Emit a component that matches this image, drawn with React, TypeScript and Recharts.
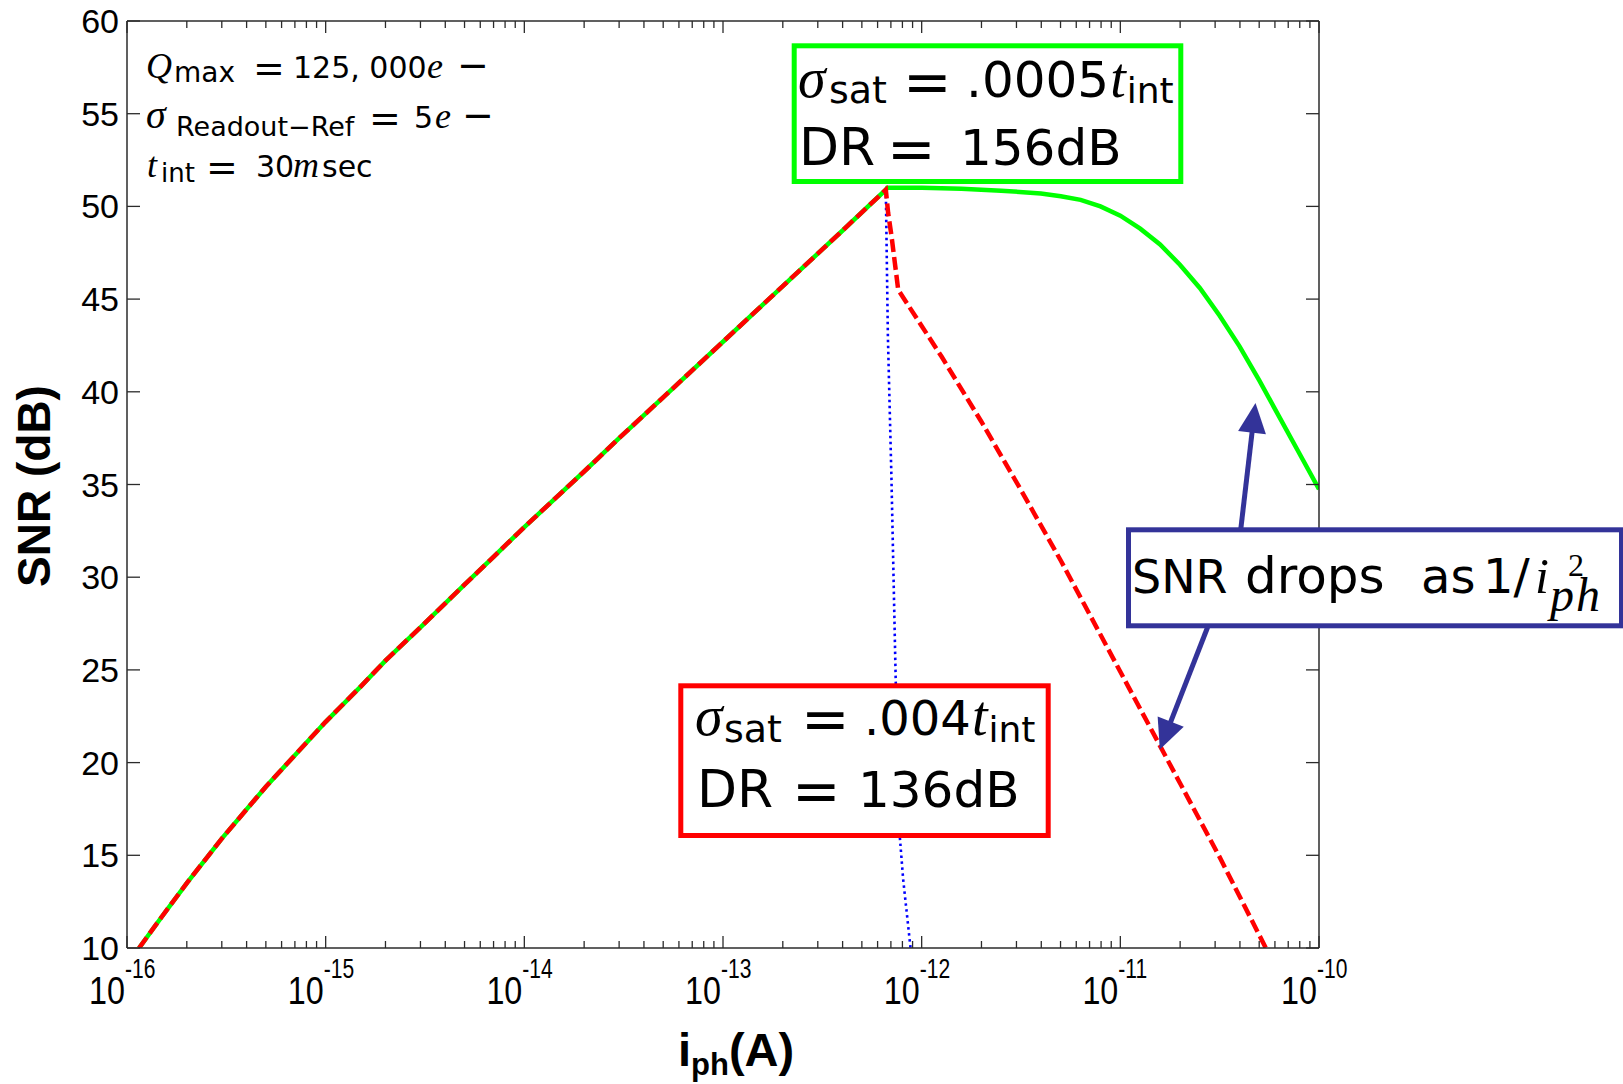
import React from 'react';
import { LineChart, Line, XAxis, YAxis, ReferenceLine } from 'recharts';

const W = 1623;
const H = 1084;
// axes are 1px thick, so the plot box lands at x 127..1319, y 21..948
const MARGIN = { top: 20, right: 303, bottom: 135, left: 126 };

const AXIS = '#2b2b2b';
const GREEN = '#00ff00';
const RED = '#ff0000';
const BLUE = '#0000ff';
const NAVY = '#333399';
const SANS = '"DejaVu Sans", sans-serif';
const MATH = '"Liberation Serif", serif';
const TICK_FONT = '"Liberation Sans", Arial, sans-serif';

// shared rising branch (photocurrent in A, SNR in dB) up to the well-capacity peak
const riseCurrent = [
  1.15e-16, 1.5e-16, 2e-16, 3e-16, 5e-16, 7e-16, 1e-15, 1.5e-15, 2e-15, 3e-15, 5e-15, 7e-15,
  1e-14, 2e-14, 3e-14, 5e-14, 1e-13, 2e-13, 4e-13, 6.6e-13,
];
const riseSnr = [
  10.0, 11.7, 13.5, 15.9, 18.7, 20.4, 22.2, 24.1, 25.5, 27.3, 29.6, 31.1,
  32.7, 35.7, 37.5, 39.7, 42.7, 45.7, 48.7, 50.9,
];

// sigma_sat = .0005 t_int
const greenCurrent = [
  6.7e-13, 1e-12, 1.585e-12, 2.512e-12, 3.981e-12, 5.012e-12, 6.31e-12, 7.943e-12, 1e-11,
  1.259e-11, 1.585e-11, 1.995e-11, 2.512e-11, 3.162e-11, 3.981e-11, 5.012e-11, 6.31e-11, 7.943e-11, 1e-10,
];
const greenSnr = [
  51.0, 51.0, 50.95, 50.85, 50.7, 50.55, 50.35, 50.0, 49.5,
  48.8, 47.95, 46.85, 45.6, 44.1, 42.45, 40.6, 38.65, 36.7, 34.75,
];

// sigma_sat = .004 t_int
const redCurrent = [
  6.78e-13, 7.05e-13, 7.33e-13, 7.62e-13, 1.259e-12, 1.995e-12, 3.162e-12, 5.012e-12,
  1e-11, 1.995e-11, 3.162e-11, 5.4e-11,
];
const redSnr = [49.65, 48.4, 46.95, 45.5, 41.9, 38.4, 34.7, 30.9, 24.9, 18.9, 14.9, 10.0];

// plain integration, no saturation extension
const blueCurrent = [6.6e-13, 6.76e-13, 7.05e-13, 7.4e-13, 7.71e-13, 8.07e-13, 8.79e-13];
const blueSnr = [50.9, 43.0, 35.2, 24.5, 16.4, 13.7, 10];

// arrows from the "SNR drops" box to the two curves: [current, snr]
const arrowTails = [[4.04e-11, 32.6], [2.75e-11, 27.3]];
const arrowTips = [[4.79e-11, 39.4], [1.58e-11, 20.7]];

const decadeExponents = [-16, -15, -14, -13, -12, -11, -10];
const minorSteps = [1, 2, 3, 4, 5, 6, 7, 8, 9];
const yTicks = [10, 15, 20, 25, 30, 35, 40, 45, 50, 55, 60];

const xTicks: number[] = [];
decadeExponents.forEach((e) => {
  minorSteps.forEach((m) => {
    if (e === -10 && m > 1) return;
    xTicks.push(m * Math.pow(10, e));
  });
});

const toPoints = (xs: number[], ys: number[]) => xs.map((i, k) => ({ i, snr: ys[k] }));

const greenData = toPoints([...riseCurrent, ...greenCurrent], [...riseSnr, ...greenSnr]);
const redData = toPoints([...riseCurrent, ...redCurrent], [...riseSnr, ...redSnr]);
const blueData = toPoints(blueCurrent, blueSnr);

const decadeOf = (v: number) => {
  const e = Math.floor(Math.log10(v) + 1e-9);
  const major = Math.abs(v / Math.pow(10, e) - 1) < 1e-6;
  return { e, major };
};

const BottomTick = (props: any) => {
  const { x, y, payload } = props;
  const { e, major } = decadeOf(payload.value);
  return (
    <g>
      <line x1={x} y1={y} x2={x} y2={y - (major ? 12 : 7)} stroke={AXIS} strokeWidth={1.3} />
      {major && (
        <g fontFamily={TICK_FONT} fill="#000">
          <text transform={`translate(${x - 2},${y + 56}) scale(0.85,1)`} textAnchor="end" fontSize={38}>10</text>
          <text transform={`translate(${x - 2},${y + 30}) scale(0.78,1)`} fontSize={27}>{e}</text>
        </g>
      )}
    </g>
  );
};

const TopTick = (props: any) => {
  const { x, y, payload } = props;
  const { major } = decadeOf(payload.value);
  return <line x1={x} y1={y} x2={x} y2={y + (major ? 12 : 7)} stroke={AXIS} strokeWidth={1.3} />;
};

const LeftTick = (props: any) => {
  const { x, y, payload } = props;
  return (
    <g>
      <line x1={x} y1={y} x2={x + 13} y2={y} stroke={AXIS} strokeWidth={1.3} />
      <text x={x - 8} y={y} textAnchor="end" dominantBaseline="central" fontSize={34} fontFamily={TICK_FONT} fill="#000">
        {payload.value}
      </text>
    </g>
  );
};

const RightTick = (props: any) => {
  const { x, y } = props;
  return <line x1={x} y1={y} x2={x - 13} y2={y} stroke={AXIS} strokeWidth={1.3} />;
};

const Arrow = (props: any) => {
  const { x1, y1, x2, y2 } = props;
  if (x1 == null || y1 == null) return null;
  const dx = x2 - x1;
  const dy = y2 - y1;
  const len = Math.hypot(dx, dy);
  const ux = dx / len;
  const uy = dy / len;
  const head = 30;
  const half = 14;
  const bx = x2 - ux * head;
  const by = y2 - uy * head;
  return (
    <g>
      <line x1={x1} y1={y1} x2={bx + ux * 2} y2={by + uy * 2} stroke={NAVY} strokeWidth={5} />
      <polygon
        points={`${x2},${y2} ${bx - uy * half},${by + ux * half} ${bx + uy * half},${by - ux * half}`}
        fill={NAVY}
      />
    </g>
  );
};

const italic = { fontFamily: MATH, fontStyle: 'italic' as const };

// the text boxes and axis titles sit on top of the chart surface
const Annotations = () => (
  <svg width={W} height={H} style={{ position: 'absolute', left: 0, top: 0, pointerEvents: 'none' }}>
    {/* parameter block */}
    <g fontFamily={SANS} fontSize={30} fill="#000">
      <text y={78}>
        <tspan x={146} {...italic} fontSize={36}>Q</tspan>
        <tspan x={174} dy={4} fontSize={28}>max</tspan>
        <tspan x={253} dy={-1} fontSize={38}>=</tspan>
        <tspan x={293} dy={-3}>125, 000</tspan>
        <tspan x={427} {...italic} fontSize={36}>e</tspan>
        <tspan x={457} fontSize={38}>−</tspan>
      </text>
      <text y={128}>
        <tspan x={146} {...italic} fontSize={40}>σ</tspan>
        <tspan x={176} dy={8} fontSize={27}>Readout−Ref</tspan>
        <tspan x={369} dy={-5} fontSize={38}>=</tspan>
        <tspan x={414} dy={-3}>5</tspan>
        <tspan x={435} {...italic} fontSize={36}>e</tspan>
        <tspan x={462} fontSize={38}>−</tspan>
      </text>
      <text y={177}>
        <tspan x={147} {...italic} fontSize={36}>t</tspan>
        <tspan x={161} dy={5} fontSize={26}>int</tspan>
        <tspan x={206} dy={-2} fontSize={38}>=</tspan>
        <tspan x={256} dy={-3}>30</tspan>
        <tspan x={293} {...italic} fontSize={36}>m</tspan>
        <tspan x={322}>sec</tspan>
      </text>
    </g>

    {/* saturation cases */}
    <rect x={794.2} y={45.8} width={386.6} height={135.7} fill="#fff" stroke={GREEN} strokeWidth={5} />
    <g fontFamily={SANS} fontSize={50} fill="#000">
      <text y={97}>
        <tspan x={798} {...italic} fontSize={56}>σ</tspan>
        <tspan x={829} dy={6} fontSize={38}>sat</tspan>
        <tspan x={903} dy={-1} fontSize={58}>=</tspan>
        <tspan x={966} dy={-5}>.0005</tspan>
        <tspan dx={1} {...italic} fontSize={56}>t</tspan>
        <tspan dx={1} dy={6} fontSize={36}>int</tspan>
      </text>
      <text y={165}>
        <tspan x={799} fontSize={52}>DR</tspan>
        <tspan x={887} dy={4} fontSize={58}>=</tspan>
        <tspan x={960} dy={-4}>156dB</tspan>
      </text>
    </g>

    <rect x={680.8} y={685.8} width={367.4} height={149.7} fill="#fff" stroke={RED} strokeWidth={5} />
    <g fontFamily={SANS} fontSize={50} fill="#000">
      <text y={735}>
        <tspan x={695} {...italic} fontSize={56}>σ</tspan>
        <tspan x={724} dy={7} fontSize={38}>sat</tspan>
        <tspan x={801} dy={-3} fontSize={58}>=</tspan>
        <tspan x={864} dy={-4} fontSize={48}>.004</tspan>
        <tspan dx={1} {...italic} fontSize={56}>t</tspan>
        <tspan dx={1} dy={7} fontSize={36}>int</tspan>
      </text>
      <text y={807}>
        <tspan x={697} fontSize={52}>DR</tspan>
        <tspan x={792} dy={4} fontSize={58}>=</tspan>
        <tspan x={858} dy={-4}>136dB</tspan>
      </text>
    </g>

    <rect x={1128.5} y={529.8} width={493} height={96} fill="#fff" stroke={NAVY} strokeWidth={5} />
    <g fontFamily={SANS} fontSize={48} fill="#000">
      <text y={593}>
        <tspan x={1132} fontSize={46}>SNR</tspan>
        <tspan x={1245} fontSize={50}>drops</tspan>
        <tspan x={1421}>as</tspan>
        <tspan x={1483}>1/</tspan>
        <tspan x={1535} {...italic} fontSize={50}>i</tspan>
        <tspan x={1568} dy={-17} fontFamily={MATH} fontSize={32}>2</tspan>
        <tspan x={1550} dy={35} {...italic} fontSize={48} letterSpacing={2}>ph</tspan>
      </text>
    </g>

    {/* axis titles */}
    <text
      transform="translate(50,486) rotate(-90)"
      textAnchor="middle"
      fontFamily={TICK_FONT}
      fontWeight="bold"
      fontSize={46}
      fill="#000"
    >
      SNR (dB)
    </text>
    <text x={678} y={1066} fontFamily={TICK_FONT} fontWeight="bold" fontSize={47} fill="#000">
      i
      <tspan dy={9} fontSize={31}>ph</tspan>
      <tspan dy={-9}>(A)</tspan>
    </text>
  </svg>
);

export default function App() {
  return (
    <div style={{ position: 'absolute', left: 0, top: 0, width: W, height: H, background: '#fff' }}>
      <LineChart width={W} height={H} margin={MARGIN}>
        <XAxis
          xAxisId="bottom"
          dataKey="i"
          type="number"
          scale="log"
          domain={[1e-16, 1e-10]}
          allowDataOverflow
          ticks={xTicks}
          interval={0}
          height={1}
          tickSize={0}
          tickMargin={0}
          tickLine={false}
          tick={<BottomTick />}
          axisLine={{ stroke: AXIS, strokeWidth: 1.5 }}
        />
        <XAxis
          xAxisId="top"
          orientation="top"
          dataKey="i"
          type="number"
          scale="log"
          domain={[1e-16, 1e-10]}
          allowDataOverflow
          ticks={xTicks}
          interval={0}
          height={1}
          tickSize={0}
          tickMargin={0}
          tickLine={false}
          tick={<TopTick />}
          axisLine={{ stroke: AXIS, strokeWidth: 1.5 }}
        />
        <YAxis
          yAxisId="left"
          type="number"
          domain={[10, 60]}
          allowDataOverflow
          ticks={yTicks}
          interval={0}
          width={1}
          tickSize={0}
          tickMargin={0}
          tickLine={false}
          tick={<LeftTick />}
          axisLine={{ stroke: AXIS, strokeWidth: 1.5 }}
        />
        <YAxis
          yAxisId="right"
          orientation="right"
          type="number"
          domain={[10, 60]}
          allowDataOverflow
          ticks={yTicks}
          interval={0}
          width={1}
          tickSize={0}
          tickMargin={0}
          tickLine={false}
          tick={<RightTick />}
          axisLine={{ stroke: AXIS, strokeWidth: 1.5 }}
        />

        <Line
          xAxisId="bottom"
          yAxisId="left"
          data={greenData}
          dataKey="snr"
          type="linear"
          stroke={GREEN}
          strokeWidth={4.5}
          dot={false}
          activeDot={false}
          isAnimationActive={false}
        />
        <Line
          xAxisId="bottom"
          yAxisId="left"
          data={blueData}
          dataKey="snr"
          type="linear"
          stroke={BLUE}
          strokeWidth={2.6}
          strokeDasharray="2.5 3.5"
          dot={false}
          activeDot={false}
          isAnimationActive={false}
        />
        <Line
          xAxisId="bottom"
          yAxisId="left"
          data={redData}
          dataKey="snr"
          type="linear"
          stroke={RED}
          strokeWidth={4.5}
          strokeDasharray="13 5"
          dot={false}
          activeDot={false}
          isAnimationActive={false}
        />

        {arrowTails.map((tail, k) => (
          <ReferenceLine
            key={k}
            xAxisId="bottom"
            yAxisId="left"
            segment={[
              { x: tail[0], y: tail[1] },
              { x: arrowTips[k][0], y: arrowTips[k][1] },
            ]}
            ifOverflow="visible"
            shape={<Arrow />}
          />
        ))}
      </LineChart>
      <Annotations />
    </div>
  );
}
